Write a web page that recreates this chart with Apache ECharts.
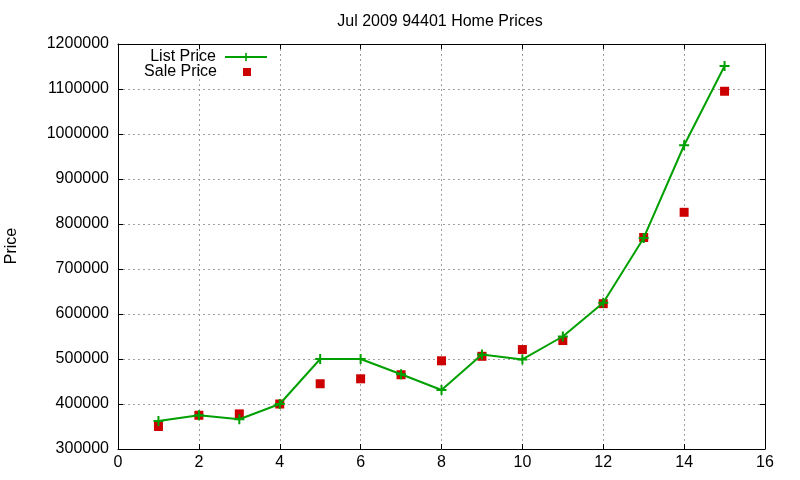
<!DOCTYPE html>
<html>
<head>
<meta charset="utf-8">
<script src="https://cdn.jsdelivr.net/npm/echarts@6/dist/echarts.min.js"></script>
<style>
html,body{margin:0;padding:0;background:#fff;}
#c{width:800px;height:480px;}
</style>
</head>
<body>
<div id="c"></div>
<script>
var xValues = [1, 2, 3, 4, 5, 6, 7, 8, 9, 10, 11, 12, 13, 14, 15];
var listPrice = [362000, 375000, 366000, 400000, 500000, 500000, 466000, 431000, 510000, 499000, 550000, 625000, 769000, 975000, 1151000];
var salePrice = [350000, 375000, 378000, 400000, 445000, 456000, 465000, 496000, 506000, 521000, 541000, 623000, 770000, 826000, 1095000];
var xTicks = {min: 0, max: 16, interval: 2};
var yTicks = {min: 300000, max: 1200000, interval: 100000};
var titleText = 'Jul 2009 94401 Home Prices';
var yAxisLabel = 'Price';
var seriesNames = ['List Price', 'Sale Price'];

var FONT = 'Liberation Sans, Arial, sans-serif';
var FS = 16;
var GREEN = '#00a000';
var RED = '#cc0000';
var plus = 'path://M4,0h2v4h4v2h-4v4h-2v-4h-4v-2h4z';
var legendSquare = 'path://M0,0M42,8M17,0h8v8h-8z';

function pairs(xs, ys) { return xs.map(function (x, i) { return [x, ys[i]]; }); }

var gridLine = {show: true, lineStyle: {color: '#a0a0a0', type: [2, 3], width: 1}};
var axisLine = {show: true, onZero: false, lineStyle: {color: '#000', width: 1}};
var tick = {show: true, inside: true, length: 5, lineStyle: {color: '#000', width: 1}};

var chart = echarts.init(document.getElementById('c'), null, {renderer: 'canvas'});
chart.setOption({
  animation: false,
  backgroundColor: '#fff',
  title: {
    text: titleText, left: 435, top: 9, textAlign: 'center',
    textStyle: {fontFamily: FONT, fontSize: FS, fontWeight: 'normal', color: '#000'}
  },
  graphic: [{
    type: 'text', x: 12, y: 246, rotation: Math.PI / 2,
    style: {text: yAxisLabel, font: FS + 'px ' + FONT, fill: '#000', align: 'center', verticalAlign: 'middle'}
  }],
  legend: [{
    data: [seriesNames[0]], align: 'right', right: 527, top: 44, orient: 'vertical',
    itemWidth: 42, itemHeight: 10,
    textStyle: {fontFamily: FONT, fontSize: FS, color: '#000', padding: [0, 4, 0, 0]}
  }, {
    data: [{name: seriesNames[1], icon: legendSquare}], align: 'right', right: 527, top: 59, orient: 'vertical',
    itemWidth: 42, itemHeight: 8, symbolKeepAspect: false,
    textStyle: {fontFamily: FONT, fontSize: FS, color: '#000', padding: [0, 4, 0, 0]}
  }],
  grid: {left: 118, right: 35, top: 44, bottom: 31, containLabel: false},
  xAxis: [{
    type: 'value', position: 'bottom', min: xTicks.min, max: xTicks.max, interval: xTicks.interval,
    axisLine: axisLine, axisTick: tick, splitLine: gridLine,
    axisLabel: {fontFamily: FONT, fontSize: FS, color: '#000', margin: 6}
  }, {
    type: 'value', position: 'top', min: xTicks.min, max: xTicks.max, interval: xTicks.interval,
    axisLine: axisLine, axisTick: tick, splitLine: {show: false}, axisLabel: {show: false}
  }],
  yAxis: [{
    type: 'value', position: 'left', min: yTicks.min, max: yTicks.max, interval: yTicks.interval,
    axisLine: axisLine, axisTick: tick, splitLine: gridLine,
    axisLabel: {fontFamily: FONT, fontSize: FS, color: '#000', margin: 9, formatter: function (v) { return String(v); }}
  }, {
    type: 'value', position: 'right', min: yTicks.min, max: yTicks.max, interval: yTicks.interval,
    axisLine: axisLine, axisTick: tick, splitLine: {show: false}, axisLabel: {show: false}
  }],
  series: [{
    name: seriesNames[0], type: 'line', xAxisIndex: 0, yAxisIndex: 0,
    data: pairs(xValues, listPrice),
    symbol: plus, symbolSize: 10, showSymbol: true,
    lineStyle: {color: GREEN, width: 2},
    itemStyle: {color: GREEN, opacity: 1}
  }, {
    name: seriesNames[1], type: 'scatter', xAxisIndex: 0, yAxisIndex: 0,
    data: pairs(xValues, salePrice),
    symbol: 'rect', symbolSize: 9,
    itemStyle: {color: RED, opacity: 1}
  }]
});
</script>
</body>
</html>
